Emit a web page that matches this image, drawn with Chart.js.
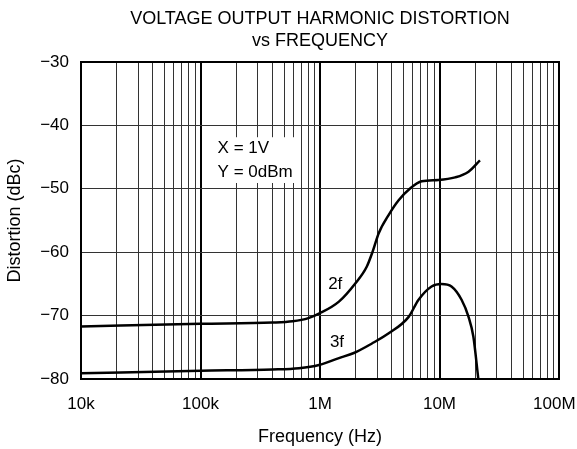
<!DOCTYPE html>
<html lang="en">
<head>
<meta charset="UTF-8">
<title>Voltage Output Harmonic Distortion vs Frequency</title>
<script src="https://cdn.jsdelivr.net/npm/chart.js"></script>
<style>
  html, body { margin: 0; padding: 0; background: #fff; }
  #wrap { width: 577px; height: 449px; }
</style>
</head>
<body>
<div id="wrap"><canvas id="myChart" width="577" height="449"></canvas></div>
<script>
// data
const freq2f = [1e4, 1e5, 4e5, 5.9e5, 8e5, 9.8e5, 1.44e6, 1.98e6, 2.46e6, 2.77e6, 3.1e6, 3.76e6, 4.55e6, 5.7e6, 7.1e6, 9.8e6, 1.35e7, 1.75e7, 2.18e7];
const dist2f = [-71.7, -71.3, -71.1, -70.9, -70.4, -69.7, -67.8, -64.9, -62.3, -59.8, -57.0, -54.1, -51.8, -49.9, -48.8, -48.6, -48.2, -47.3, -45.5];

const freq3f = [1e4, 1e5, 4e5, 6.67e5, 9.8e5, 1.44e6, 1.92e6, 2.72e6, 3.76e6, 5.52e6, 6.68e6, 8.58e6, 1.04e7, 1.26e7, 1.53e7, 1.75e7, 1.92e7, 2.11e7];
const dist3f = [-79.1, -78.7, -78.5, -78.3, -77.8, -76.7, -75.9, -74.4, -72.8, -70.2, -67.5, -65.4, -65.0, -65.4, -67.5, -70.2, -73.3, -79.9];

// trailing spaces on the last label pull it back inside the canvas
const decadeLabels = {1e4: '10k', 1e5: '100k', 1e6: '1M', 1e7: '10M', 1e8: '100M  '};
const yTicks = [-80, -70, -60, -50, -40, -30];

const FONT = '"Liberation Sans", Arial, sans-serif';

function toPoints(xs, ys) {
  return xs.map((x, i) => ({x: x, y: ys[i]}));
}

function isDecade(v) {
  const l = Math.log10(v);
  return Math.abs(l - Math.round(l)) < 1e-6;
}

// titles, annotations and frame
const extras = {
  id: 'extras',
  afterDraw(chart) {
    const c = chart.ctx;
    const a = chart.chartArea;
    const cx = (a.left + a.right) / 2;
    const xs = chart.scales.x, ys = chart.scales.y;
    c.save();
    c.fillStyle = '#000';
    c.font = '18px ' + FONT;
    c.textAlign = 'center';
    c.textBaseline = 'middle';
    c.fillText('VOLTAGE OUTPUT HARMONIC DISTORTION', cx, 19);
    c.fillText('vs FREQUENCY', cx, 41);
    c.fillText('Frequency (Hz)', cx, 437);
    c.save();
    c.translate(15, (a.top + a.bottom) / 2);
    c.rotate(-Math.PI / 2);
    c.fillText('Distortion (dBc)', 0, 0);
    c.restore();

    // condition box
    c.font = '17px ' + FONT;
    c.textAlign = 'left';
    const bx = xs.getPixelForValue(1.39e5), by1 = ys.getPixelForValue(-43.6), by2 = ys.getPixelForValue(-47.35);
    const w1 = c.measureText('Y = 0dBm').width;
    c.fillStyle = '#fff';
    c.fillRect(bx - 4, by1 - 11, w1 + 8, by2 - by1 + 22);
    c.fillStyle = '#000';
    c.fillText('X = 1V', bx, by1);
    c.fillText('Y = 0dBm', bx, by2);

    c.fillText('2f', xs.getPixelForValue(1.17e6), ys.getPixelForValue(-65.0));
    c.fillText('3f', xs.getPixelForValue(1.21e6), ys.getPixelForValue(-74.2));

    c.strokeStyle = '#000';
    c.lineWidth = 2;
    c.strokeRect(a.left, a.top, a.right - a.left, a.bottom - a.top);
    c.restore();
  }
};

const ctx = document.getElementById('myChart').getContext('2d');
const myChart = new Chart(ctx, {
  type: 'line',
  data: {
    datasets: [{
      label: '2f',
      data: toPoints(freq2f, dist2f),
      borderColor: '#000',
      borderWidth: 2.5,
      pointRadius: 0,
      cubicInterpolationMode: 'monotone'
    }, {
      label: '3f',
      data: toPoints(freq3f, dist3f),
      borderColor: '#000',
      borderWidth: 2.5,
      pointRadius: 0,
      cubicInterpolationMode: 'monotone'
    }]
  },
  options: {
    responsive: false,
    animation: false,
    layout: { padding: { top: 62, right: 18, left: 0, bottom: 0 } },
    plugins: { legend: { display: false }, tooltip: { enabled: false } },
    scales: {
      x: {
        type: 'logarithmic',
        min: 1e4,
        max: 1e8,
        afterBuildTicks(scale) {
          const t = [];
          for (let d = 1e4; d < 1e8; d *= 10) {
            for (let m = 1; m < 10; m++) t.push({value: m * d});
          }
          t.push({value: 1e8});
          scale.ticks = t;
        },
        afterFit(scale) {
          scale.height = 70;
          scale.paddingLeft = 0;
          scale.paddingRight = 0;
        },
        ticks: {
          autoSkip: false,
          maxRotation: 0,
          padding: 15,
          color: '#000',
          font: { family: FONT, size: 17 },
          callback(v) { return decadeLabels[v] || ''; }
        },
        grid: {
          drawTicks: false,
          color: ctx => isDecade(ctx.tick.value) ? '#000' : '#333',
          lineWidth: ctx => isDecade(ctx.tick.value) ? 2 : 1
        },
        border: { display: false }
      },
      y: {
        min: -80,
        max: -30,
        afterBuildTicks(scale) { scale.ticks = yTicks.map(v => ({value: v})); },
        afterFit(scale) {
          scale.width = 81;
          scale.paddingTop = 0;
          scale.paddingBottom = 0;
        },
        ticks: {
          padding: 12,
          color: '#000',
          font: { family: FONT, size: 17 },
          callback(v) { return String(v).replace('-', '\u2212'); }
        },
        grid: { drawTicks: false, color: '#333', lineWidth: 1 },
        border: { display: false }
      }
    }
  },
  plugins: [extras]
});
</script>
</body>
</html>
